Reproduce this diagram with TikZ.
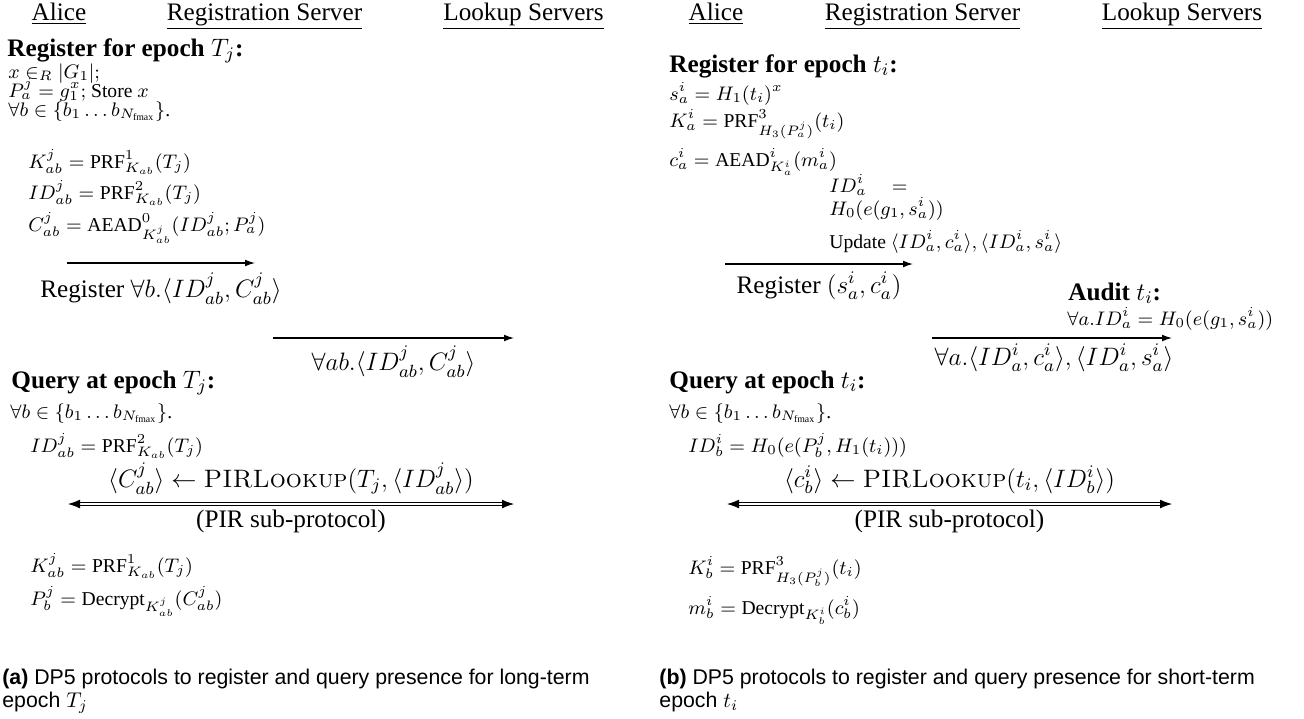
\RequirePackage{fix-cm}
\documentclass[tikz,border=0pt]{standalone}
\usepackage{amsmath}
\usepackage{fontspec}
\setmainfont{Liberation Serif}
\newfontfamily\capfont{Liberation Sans}
\usetikzlibrary{arrows.meta}

\newcommand{\pirlk}{\text{\fontfamily{lmr}\selectfont\scshape PIRLookup}}
\newcommand{\nfmax}{N_{\text{fmax}}}

\tikzset{
  hdr/.style={anchor=base, inner sep=0pt, font=\fontsize{12.6}{15}\selectfont},
  ttl/.style={anchor=base west, inner sep=0pt, font=\fontsize{12.6}{15}\selectfont\bfseries},
  sml/.style={anchor=base west, inner sep=0pt, font=\fontsize{9.8}{12}\selectfont},
  lbl/.style={anchor=base, inner sep=0pt, font=\fontsize{12.6}{15}\selectfont},
  captxt/.style={anchor=base west, inner sep=0pt, font=\fontsize{10.65}{12}\capfont},
  msg/.style={-{Latex[length=5pt,width=3.4pt]}, line width=0.6pt},
  pir/.style={double, double distance=0.9pt, line width=0.45pt,
              {Latex[length=6pt,width=4.4pt]}-{Latex[length=6pt,width=4.4pt]}},
}

\begin{document}
\begin{tikzpicture}[x=0.5pt, y=-0.5pt]
  \useasboundingbox (0,0) rectangle (1304,718);

  % (a) long-term epoch
  \node[hdr] (aliceA) at (59,20) {\underline{Alice}};
  \node[hdr] (regA) at (264.5,20) {\underline{Registration Server}};
  \node[hdr] (lookA) at (523.5,20) {\underline{Lookup Servers}};

  \node[ttl] (regtitleA) at (7,56) {Register for epoch $T_j$:};
  \node[sml] (xA) at (8,78) {$x \in_R |G_1|;$};
  \node[sml] (pA) at (8,97) {$P^j_a = g_1^x;$ Store $x$};
  \node[sml] (forallA) at (8,116) {$\forall b \in \{b_1 \ldots b_{\nfmax}\}$.};
  \node[sml] (kA) at (28,168) {$K^j_{ab} = \text{PRF}^1_{K_{ab}}(T_j)$};
  \node[sml] (idA) at (28,199) {$ID^j_{ab} = \text{PRF}^2_{K_{ab}}(T_j)$};
  \node[sml] (cA) at (28,231) {$C^j_{ab} = \text{AEAD}^0_{\vphantom{X^j}K^j_{ab}}(ID^j_{ab}; P^j_a)$};

  \coordinate (r1sA) at (67,263);
  \coordinate (r1eA) at (255,263);
  \draw[msg] (r1sA) -- (r1eA);
  \node[lbl] (reglblA) at (161,297) {Register $\forall b.\langle ID^j_{ab}, C^j_{ab}\rangle$};

  \coordinate (r2sA) at (273,338);
  \coordinate (r2eA) at (514,338);
  \draw[msg] (r2sA) -- (r2eA);
  \node[lbl] (pushlblA) at (393.5,370) {$\forall ab.\langle ID^j_{ab}, C^j_{ab}\rangle$};

  \node[ttl] (qtitleA) at (11,388) {Query at epoch $T_j$:};
  \node[sml] (qforallA) at (10,418) {$\forall b \in \{b_1 \ldots b_{\nfmax}\}$.};
  \node[sml] (qidA) at (30,452) {$ID^j_{ab} = \text{PRF}^2_{K_{ab}}(T_j)$};
  \node[lbl] (pirlblA) at (291,487) {$\langle C^j_{ab}\rangle \leftarrow \pirlk(T_j, \langle ID^j_{ab}\rangle)$};
  \coordinate (psA) at (68,504);
  \coordinate (peA) at (514,504);
  \draw[pir] (psA) -- (peA);
  \node[lbl] (subA) at (291,527) {(PIR sub-protocol)};
  \node[sml] (qkA) at (30,572) {$K^j_{ab} = \text{PRF}^1_{K_{ab}}(T_j)$};
  \node[sml] (qpA) at (30,605) {$P^j_b = \text{Decrypt}_{\vphantom{X^j}K^j_{ab}}(C^j_{ab})$};

  \node[captxt] (capA1) at (2,684) {\textbf{(a)} DP5 protocols to register and query presence for long-term};
  \node[captxt] (capA2) at (2,707) {epoch $T_j$};

  % (b) short-term epoch
  \node[hdr] (aliceB) at (716,20) {\underline{Alice}};
  \node[hdr] (regB) at (922.5,20) {\underline{Registration Server}};
  \node[hdr] (lookB) at (1182,20) {\underline{Lookup Servers}};

  \node[ttl] (regtitleB) at (669,72) {Register for epoch $t_i$:};
  \node[sml] (sB) at (669,100) {$s^i_a = H_1(t_i)^x$};
  \node[sml] (kB) at (669,127) {$K^i_a = \text{PRF}^3_{\vphantom{X^j}H_3(P^j_a)}(t_i)$};
  \node[sml] (cB) at (669,166) {$c^i_a = \text{AEAD}^i_{K^i_a}(m^i_a)$};
  \node[sml] (idB) at (829,192) {$ID^i_a \quad =$};
  \node[sml] (hB) at (829,215) {$H_0(e(g_1, s^i_a))$};
  \node[sml] (updB) at (829,248) {Update $\langle ID^i_a, c^i_a\rangle, \langle ID^i_a, s^i_a\rangle$};

  \coordinate (r1sB) at (725,264);
  \coordinate (r1eB) at (913,264);
  \draw[msg] (r1sB) -- (r1eB);
  \node[lbl] (reglblB) at (819,293) {Register $(s^i_a, c^i_a)$};

  \node[ttl] (auditB) at (1068,300) {Audit $t_i$:};
  \node[sml] (chkB) at (1067,325) {$\forall a.ID^i_a = H_0(e(g_1, s^i_a))$};
  \coordinate (r2sB) at (932,338);
  \coordinate (r2eB) at (1172,338);
  \draw[msg] (r2sB) -- (r2eB);
  \node[lbl] (pushlblB) at (1054,365) {$\forall a.\langle ID^i_a, c^i_a\rangle, \langle ID^i_a, s^i_a\rangle$};

  \node[ttl] (qtitleB) at (669,388) {Query at epoch $t_i$:};
  \node[sml] (qforallB) at (669,418) {$\forall b \in \{b_1 \ldots b_{\nfmax}\}$.};
  \node[sml] (qidB) at (688,452) {$ID^i_b = H_0(e(P^j_b, H_1(t_i)))$};
  \node[lbl] (pirlblB) at (949.5,487) {$\langle c^i_b\rangle \leftarrow \pirlk(t_i, \langle ID^i_b\rangle)$};
  \coordinate (psB) at (727,504);
  \coordinate (peB) at (1172,504);
  \draw[pir] (psB) -- (peB);
  \node[lbl] (subB) at (949.5,527) {(PIR sub-protocol)};
  \node[sml] (qkB) at (688,574) {$K^i_b = \text{PRF}^3_{\vphantom{X^j}H_3(P^j_b)}(t_i)$};
  \node[sml] (qmB) at (688,614) {$m^i_b = \text{Decrypt}_{K^i_b}(c^i_b)$};

  \node[captxt] (capB1) at (659,684) {\textbf{(b)} DP5 protocols to register and query presence for short-term};
  \node[captxt] (capB2) at (659,707) {epoch $t_i$};
\end{tikzpicture}
\end{document}
